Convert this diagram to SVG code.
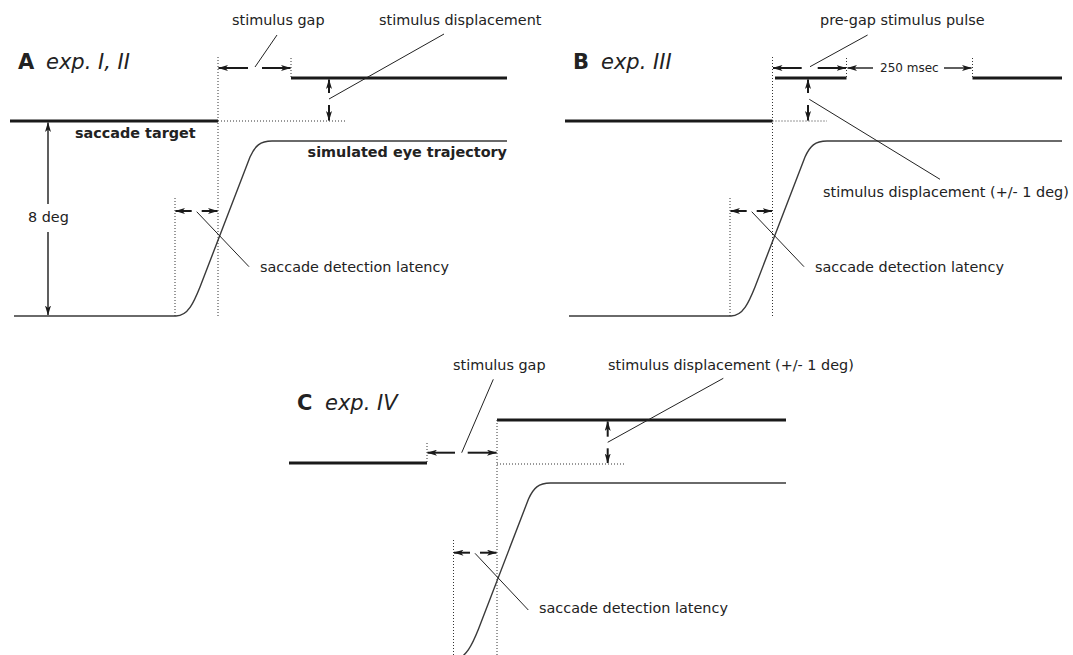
<svg xmlns="http://www.w3.org/2000/svg" width="1073" height="655" viewBox="0 0 1073 655">
<style>
.lbl{font-family:"DejaVu Sans","Liberation Sans",sans-serif;font-size:14.4px;fill:#222}
.b{font-weight:bold}
.small{font-size:12px}
.ttl{font-family:"DejaVu Sans","Liberation Sans",sans-serif;font-size:21px;fill:#222}
.it{font-style:italic}
.thick{stroke:#1a1a1a;stroke-width:3;fill:none}
.dot{stroke:#333;stroke-width:1;stroke-dasharray:1 2;fill:none}
.traj{stroke:#3a3a3a;stroke-width:1.4;fill:none}
.lead{stroke:#222;stroke-width:1;fill:none}
.arr{stroke:#1a1a1a;stroke-width:2;fill:none;marker-end:url(#ah)}
.arr1{stroke:#1a1a1a;stroke-width:1.4;fill:none;marker-end:url(#ah)}
</style>
<defs>
<marker id="ah" viewBox="0 0 10 6" refX="9.5" refY="3" markerWidth="10" markerHeight="6" markerUnits="userSpaceOnUse" orient="auto">
<path d="M0,0 L10,3 L0,6 L2.5,3 z" fill="#1a1a1a"/>
</marker>
</defs>

<!-- Panel A -->
<g id="panelA-title"><text class="ttl" x="18" y="69"><tspan class="b">A</tspan><tspan class="it" x="46">exp. I, II</tspan></text></g>
<g id="A-target"><line class="thick" x1="10" y1="121" x2="218" y2="121"/><text class="lbl b" x="75" y="137.5">saccade target</text></g>
<g id="A-displaced"><line class="thick" x1="291" y1="78" x2="507" y2="78"/></g>
<g id="A-eye"><path class="traj" d="M14,316 H176 C188,316 194,302 200,287 L250,157 C255,146 260,141 272,141 H507"/><text class="lbl b" x="507" y="157" text-anchor="end">simulated eye trajectory</text></g>
<g id="A-8deg"><text class="lbl" x="28" y="222">8 deg</text></g>
<g id="A-gap-label"><text class="lbl" x="232" y="25">stimulus gap</text></g>
<g id="A-disp-label"><text class="lbl" x="379" y="25">stimulus displacement</text></g>
<g id="A-lat-label"><text class="lbl" x="260" y="272">saccade detection latency</text></g>

<!-- Panel B -->
<g id="panelB-title"><text class="ttl" x="573" y="69"><tspan class="b">B</tspan><tspan class="it" x="601">exp. III</tspan></text></g>
<g id="B-target"><line class="thick" x1="565" y1="121" x2="772.5" y2="121"/></g>
<g id="B-pulse"><line class="thick" x1="775" y1="78" x2="846.5" y2="78"/></g>
<g id="B-displaced"><line class="thick" x1="972.5" y1="78" x2="1062" y2="78"/></g>
<g id="B-eye"><path class="traj" d="M569,316 H731 C743,316 749,302 755,287 L805,157 C810,146 815,141 827,141 H1062"/></g>
<g id="B-pulse-label"><text class="lbl" x="820" y="25">pre-gap stimulus pulse</text></g>
<g id="B-250"><text class="lbl small" x="880" y="72">250 msec</text></g>
<g id="B-disp-label"><text class="lbl" x="823" y="197">stimulus displacement (+/- 1 deg)</text></g>
<g id="B-lat-label"><text class="lbl" x="815" y="272">saccade detection latency</text></g>

<!-- Panel C -->
<g id="panelC-title"><text class="ttl" x="297" y="410"><tspan class="b">C</tspan><tspan class="it" x="325">exp. IV</tspan></text></g>
<g id="C-target"><line class="thick" x1="289" y1="463" x2="427" y2="463"/></g>
<g id="C-displaced"><line class="thick" x1="497" y1="420" x2="786" y2="420"/></g>
<g id="C-eye"><path class="traj" d="M452,662 C466.5,658 472.5,644 478.5,629 L528.5,499 C533.5,488 538.5,483 550.5,483 H786"/></g>
<g id="C-gap-label"><text class="lbl" x="453" y="370">stimulus gap</text></g>
<g id="C-disp-label"><text class="lbl" x="608" y="370">stimulus displacement (+/- 1 deg)</text></g>
<g id="C-lat-label"><text class="lbl" x="539" y="613">saccade detection latency</text></g>

<g id="connectors">
<!-- A dotted -->
<line class="dot" x1="218" y1="57" x2="218" y2="316"/>
<line class="dot" x1="291" y1="58" x2="291" y2="78"/>
<line class="dot" x1="218" y1="121" x2="345" y2="121"/>
<line class="dot" x1="175" y1="198" x2="175" y2="316"/>
<!-- A arrows -->
<line class="arr" x1="248" y1="68" x2="218.5" y2="68"/>
<line class="arr" x1="262" y1="68" x2="290.5" y2="68"/>
<line class="arr" x1="329" y1="93" x2="329" y2="79.5"/>
<line class="arr" x1="329" y1="105" x2="329" y2="120.5"/>
<line class="arr" x1="191.7" y1="211" x2="175.5" y2="211"/>
<line class="arr" x1="201.7" y1="211" x2="217.5" y2="211"/>
<line class="arr1" x1="48" y1="204" x2="48" y2="122.5"/>
<line class="arr1" x1="48" y1="232" x2="48" y2="315"/>
<!-- A leaders -->
<line class="lead" x1="255" y1="67" x2="277" y2="35"/>
<line class="lead" x1="329" y1="99" x2="444" y2="34"/>
<line class="lead" x1="196.7" y1="211.7" x2="249" y2="266.7"/>
<!-- B dotted -->
<line class="dot" x1="772.5" y1="57" x2="772.5" y2="316"/>
<line class="dot" x1="846.5" y1="58" x2="846.5" y2="78"/>
<line class="dot" x1="972.5" y1="58" x2="972.5" y2="78"/>
<line class="dot" x1="772.5" y1="121" x2="827" y2="121"/>
<line class="dot" x1="730" y1="198" x2="730" y2="316"/>
<!-- B arrows -->
<line class="arr" x1="801.7" y1="68" x2="773" y2="68"/>
<line class="arr" x1="817.7" y1="68" x2="846" y2="68"/>
<line class="arr1" x1="873" y1="68" x2="847.5" y2="68"/>
<line class="arr1" x1="944" y1="68" x2="971.5" y2="68"/>
<line class="arr" x1="808" y1="93" x2="808" y2="79.5"/>
<line class="arr" x1="808" y1="105" x2="808" y2="120.5"/>
<line class="arr" x1="746.7" y1="211" x2="730.5" y2="211"/>
<line class="arr" x1="756.7" y1="211" x2="772" y2="211"/>
<!-- B leaders -->
<line class="lead" x1="810" y1="66.7" x2="867.6" y2="35"/>
<line class="lead" x1="809.3" y1="99.3" x2="940" y2="179.3"/>
<line class="lead" x1="751.7" y1="211.7" x2="804" y2="266.7"/>
<!-- C dotted -->
<line class="dot" x1="427" y1="443" x2="427" y2="463"/>
<line class="dot" x1="497" y1="420" x2="497" y2="655"/>
<line class="dot" x1="497" y1="464" x2="625" y2="464"/>
<line class="dot" x1="453.5" y1="540" x2="453.5" y2="655"/>
<!-- C arrows -->
<line class="arr" x1="455" y1="452.7" x2="427.5" y2="452.7"/>
<line class="arr" x1="467.7" y1="452.7" x2="496.5" y2="452.7"/>
<line class="arr" x1="607.7" y1="436.7" x2="607.7" y2="421.5"/>
<line class="arr" x1="607.7" y1="448.3" x2="607.7" y2="463"/>
<line class="arr" x1="470" y1="552.7" x2="454" y2="552.7"/>
<line class="arr" x1="480" y1="552.7" x2="496.5" y2="552.7"/>
<!-- C leaders -->
<line class="lead" x1="461.7" y1="452.7" x2="493.3" y2="379.3"/>
<line class="lead" x1="607.7" y1="442.3" x2="723.3" y2="378.3"/>
<line class="lead" x1="475" y1="553.3" x2="528.3" y2="610"/>
</g>
</svg>
